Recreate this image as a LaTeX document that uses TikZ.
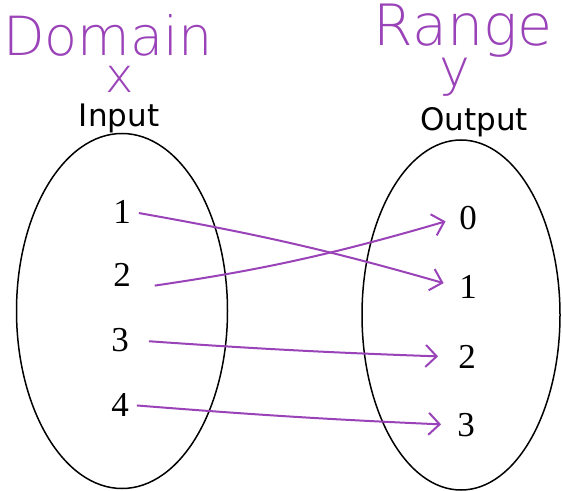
\documentclass[tikz,border=0pt]{standalone}
\usepackage{fontspec}
\setmainfont{Liberation Serif}
\newfontfamily\handfont{DejaVu Sans ExtraLight}
\newfontfamily\labfont{DejaVu Sans}
\usetikzlibrary{arrows.meta,shapes.geometric}
\definecolor{pen}{HTML}{9A42B8}
\tikzset{
  setell/.style={draw=black, line width=1.5pt, ellipse, inner sep=0pt},
  num/.style={font=\fontsize{35}{35}\selectfont, inner sep=2pt},
  hand/.style={text=pen, font=\handfont\fontsize{54}{54}\selectfont, inner sep=0pt, anchor=base},
  lab/.style={font=\labfont\fontsize{31}{31}\selectfont, inner sep=0pt, anchor=base},
  maparrow/.style={draw=pen, line width=2pt, -{Straight Barb[length=11pt,width=22pt,line width=2pt]}},
}
\begin{document}
\begin{tikzpicture}[x=1pt,y=1pt]
\useasboundingbox (0,0) rectangle (562,490);
% titles
\node[hand, text depth=0pt] (dom) at (108,434) {Domain};
\node[hand, font=\handfont\fontsize{48}{48}\selectfont] (xv) at (120,397) {x};
\node[hand, text depth=0pt, font=\handfont\fontsize{57}{57}\selectfont] (rng) at (463,444) {Range};
\node[hand, font=\handfont\fontsize{52}{52}\selectfont] (yv) at (455,403) {y};
\node[lab] (inp) at (119,363) {Input};
\node[lab] (outp) at (474,359) {Output};
% sets
\node[setell, minimum width=211pt, minimum height=355pt] (dset) at (122,179) {};
\node[setell, minimum width=198pt, minimum height=350pt] (rset) at (461,175) {};
% domain values
\node[num] (l1) at (122,278) {1};
\node[num] (l2) at (122,215) {2};
\node[num] (l3) at (120,150) {3};
\node[num] (l4) at (120,85) {4};
% range values
\node[num] (r0) at (468,272) {0};
\node[num] (r1) at (468,203) {1};
\node[num] (r2) at (467,133) {2};
\node[num] (r3) at (466,65) {3};
% mapping
\draw[maparrow, shorten <=6pt, shorten >=14pt] (l1.east) to[bend left=3] (r1.west);
\draw[maparrow, shorten <=22pt, shorten >=12pt] (l2.south east) to[bend right=4] (r0.west);
\draw[maparrow, shorten <=18pt, shorten >=18pt] (l3.east) to[bend right=1] (r2.west);
\draw[maparrow, shorten <=6pt, shorten >=14pt] (l4.east) to[bend right=1] (r3.west);
\end{tikzpicture}
\end{document}
